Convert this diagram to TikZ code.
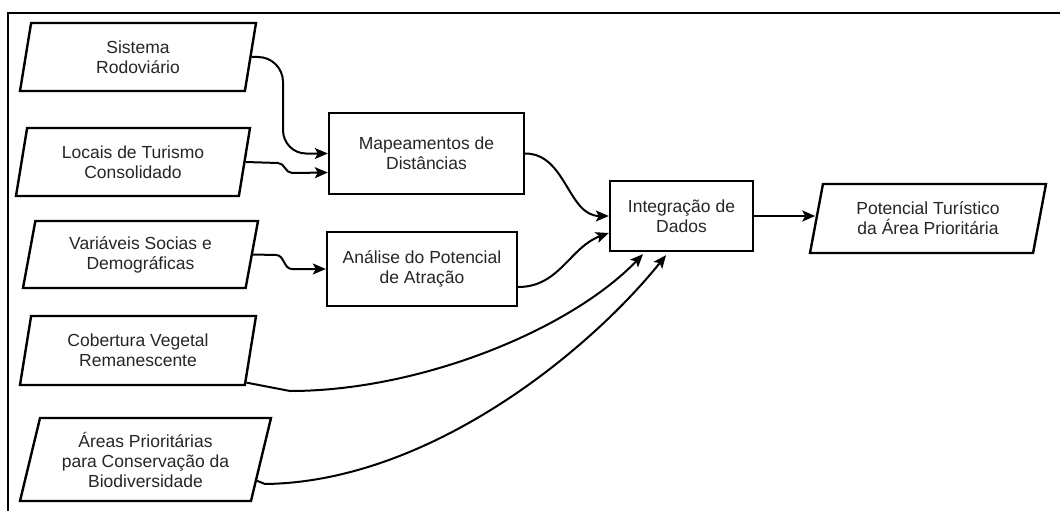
\documentclass[tikz,border=0pt]{standalone}
\usepackage{fontspec}
\setmainfont{Liberation Sans}
\usetikzlibrary{shapes.geometric,arrows.meta,calc}
\tikzset{
  box/.style={draw, line width=2.4pt, rectangle, inner sep=0pt, align=center, text=black!85,
    font=\fontsize{17.5}{20}\selectfont},
  data/.style={draw, line width=2.4pt, trapezium, trapezium stretches body, inner sep=0pt,
    align=center, text=black!85, font=\fontsize{17.5}{20}\selectfont,
    minimum height=#1},
  data/.default=68pt,
  conn/.style={line width=2pt, -{Stealth[length=13pt,width=11pt,inset=3pt]}},
}
\begin{document}
\begin{tikzpicture}[x=1pt,y=-1pt]
\useasboundingbox (0,0) rectangle (1060,511);
\fill[white] (0,0) rectangle (1060,511);
\draw[line width=2.2pt] (8,511) -- (8,13) -- (1060,13);

% input parallelograms
\node[data, trapezium left angle=71.3, trapezium right angle=108.7, minimum width=236pt] (s1) at (138,57) {Sistema\\Rodoviário};
\node[data, trapezium left angle=71.3, trapezium right angle=108.7, minimum width=234pt] (s2) at (133,162) {Locais de Turismo\\Consolidado};
\node[data=67pt, trapezium left angle=71.3, trapezium right angle=108.7, minimum width=235pt] (s3) at (140.5,254.5) {Variáveis Socias e\\Demográficas};
\node[data=69pt, trapezium left angle=71.3, trapezium right angle=108.7, minimum width=236pt] (s4) at (138,350.5) {Cobertura Vegetal\\Remanescente};
\node[data=83pt, trapezium left angle=70.1, trapezium right angle=109.9, minimum width=251pt] (s5) at (145.5,459.5) {Áreas Prioritárias\\para Conservação da\\Biodiversidade};

% process boxes
\node[box, minimum width=195pt, minimum height=81pt] (m) at (426.5,153.5) {Mapeamentos de\\Distâncias};
\node[box, minimum width=190pt, minimum height=74pt] (a) at (422,269) {Análise do Potencial\\de Atração};
\node[box, minimum width=143pt, minimum height=70pt] (i) at (681.5,216) {Integração de\\Dados};

% output
\node[data=69pt, trapezium left angle=68.6, trapezium right angle=111.4, minimum width=236pt] (p) at (928,218.5) {Potencial Turístico\\da Área Prioritária};

% connectors
\draw[conn] (s1.east) -- (258,57) to[out=0,in=90] (283,82) -- (283,130) to[out=-90,in=180] (306,153.5) -- (m.west);
\draw[conn] (s2.east) -- (278,163) to[out=0,in=180] (292,173) -- ($(m.west)+(0,19)$);
\draw[conn] (s3.east) -- (276,255) to[out=0,in=180] (292,269) -- (a.west);
\draw[conn] (m.east) to[out=0,in=180] (i.west);
\draw[conn] ($(a.east)+(0,18)$) to[out=0,in=200] ($(i.west)+(0,17)$);
\draw[conn] ($(s4.bottom right corner)!0.05!(s4.top right corner)$) -- (290,391) .. controls (420,391) and (570,330) .. ($(i.south)+(-38.5,2)$);
\draw[conn] ($(s5.bottom right corner)!0.25!(s5.top right corner)$) -- (265,484) .. controls (430,482) and (590,350) .. ($(i.south)+(-15.5,3)$);
\draw[conn] (i.east) -- (i.east -| p.west);
\end{tikzpicture}
\end{document}
